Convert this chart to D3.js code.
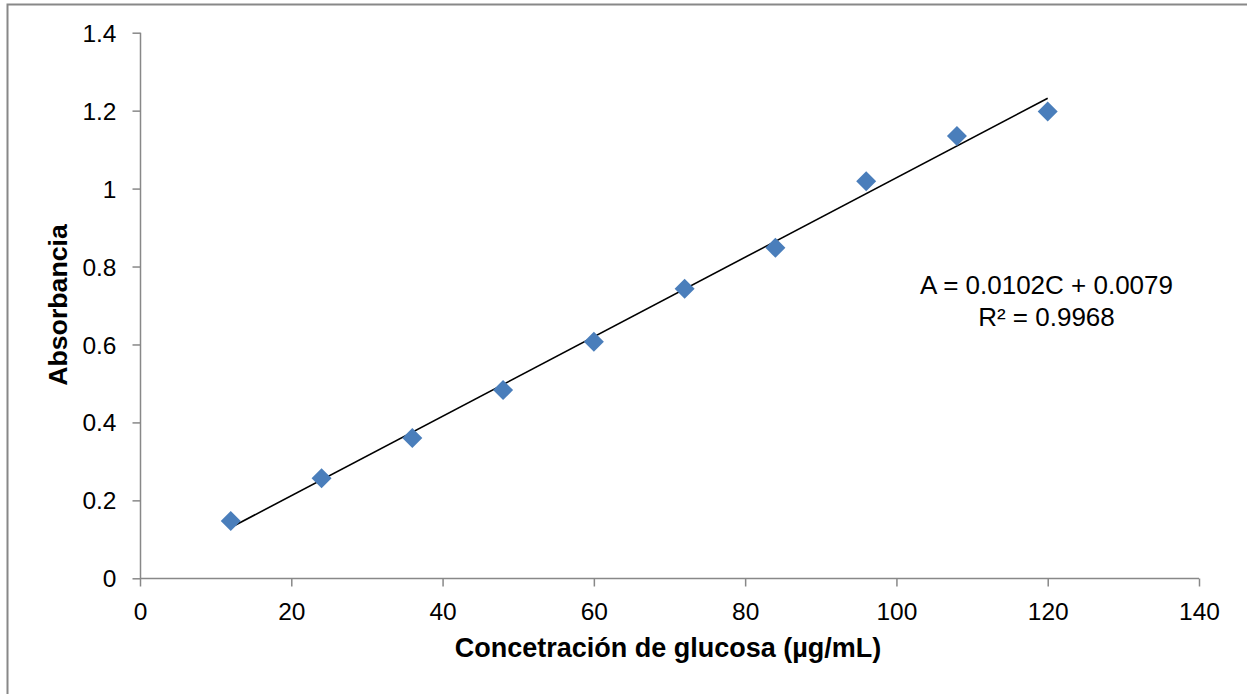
<!DOCTYPE html>
<html>
<head>
<meta charset="utf-8">
<script src="https://cdn.jsdelivr.net/npm/d3@7"></script>
<style>
  html, body { margin: 0; padding: 0; background: #fff; }
  svg { display: block; font-family: "Liberation Sans", Arial, sans-serif; }
</style>
</head>
<body>
<svg id="chart" width="1247" height="694"></svg>
<script>
// Glucose calibration curve: concentration (µg/mL) vs absorbance
const concentration = [12, 24, 36, 48, 60, 72, 84, 96, 108, 120];
const absorbance = [0.147, 0.257, 0.360, 0.483, 0.607, 0.743, 0.848, 1.019, 1.135, 1.198];
const xTicks = [0, 20, 40, 60, 80, 100, 120, 140];
const yTicks = [0, 0.2, 0.4, 0.6, 0.8, 1, 1.2, 1.4];
const slope = 0.0102;
const intercept = 0.0079;
const equationLines = ["A = 0.0102C + 0.0079", "R² = 0.9968"];

const svg = d3.select("#chart");

// outer chart frame
svg.append("rect")
  .attr("x", 7.5).attr("y", 4.5)
  .attr("width", 1260).attr("height", 700)
  .attr("fill", "none").attr("stroke", "#888").attr("stroke-width", 2);

const x = d3.scaleLinear().domain([0, 140]).range([140, 1199]);
const y = d3.scaleLinear().domain([0, 1.4]).range([578.3, 32.7]);

const fmt = d => (d === 0 ? "0" : String(+d.toFixed(1)));

// y axis
const yAxis = svg.append("g")
  .attr("transform", "translate(140.5,0)")
  .call(d3.axisLeft(y).tickValues(yTicks).tickSize(8).tickPadding(16).tickFormat(fmt));
// x axis
const xAxis = svg.append("g")
  .attr("transform", "translate(0,578.5)")
  .call(d3.axisBottom(x).tickValues(xTicks).tickSize(8).tickPadding(16).tickFormat(d3.format("d")));

[yAxis, xAxis].forEach(g => {
  g.select(".domain").attr("stroke", "#888").attr("stroke-width", 1.5);
  g.selectAll(".tick line").attr("stroke", "#888").attr("stroke-width", 1.5);
  g.selectAll(".tick text")
    .attr("fill", "#000")
    .style("font-size", "24.5px")
    .style("font-family", "'Liberation Sans', Arial, sans-serif");
});
// plain axis lines without end caps
yAxis.select(".domain").attr("d", `M0,${y(1.4)}V${y(0)}`);
xAxis.select(".domain").attr("d", `M${x(0)},0H${x(140)}`);
yAxis.selectAll(".tick text").attr("dy", "0.35em");

// linear trendline over the data range
const xMin = d3.min(concentration), xMax = d3.max(concentration);
svg.append("line")
  .attr("x1", x(xMin)).attr("y1", y(slope * xMin + intercept))
  .attr("x2", x(xMax)).attr("y2", y(slope * xMax + intercept))
  .attr("stroke", "#000").attr("stroke-width", 1.6);

// diamond markers
const diamond = d3.symbol().type(d3.symbolSquare).size(200);
svg.append("g").selectAll("path")
  .data(concentration.map((c, i) => [c, absorbance[i]]))
  .join("path")
  .attr("d", diamond)
  .attr("transform", d => `translate(${x(d[0])},${y(d[1])}) rotate(45)`)
  .attr("fill", "#4a7ebb");

// regression equation
svg.append("g").selectAll("text")
  .data(equationLines)
  .join("text")
  .attr("x", 1046.5)
  .attr("y", (d, i) => 294 + i * 32)
  .attr("text-anchor", "middle")
  .style("font-size", "26px")
  .attr("fill", "#000")
  .text(d => d);

// axis titles
svg.append("text")
  .attr("x", 668).attr("y", 657)
  .attr("text-anchor", "middle")
  .style("font-size", "27px").style("font-weight", "bold")
  .text("Concetración de glucosa (µg/mL)");

svg.append("text")
  .attr("transform", "translate(67,305) rotate(-90)")
  .attr("text-anchor", "middle")
  .style("font-size", "26.7px").style("font-weight", "bold")
  .text("Absorbancia");
</script>
</body>
</html>
